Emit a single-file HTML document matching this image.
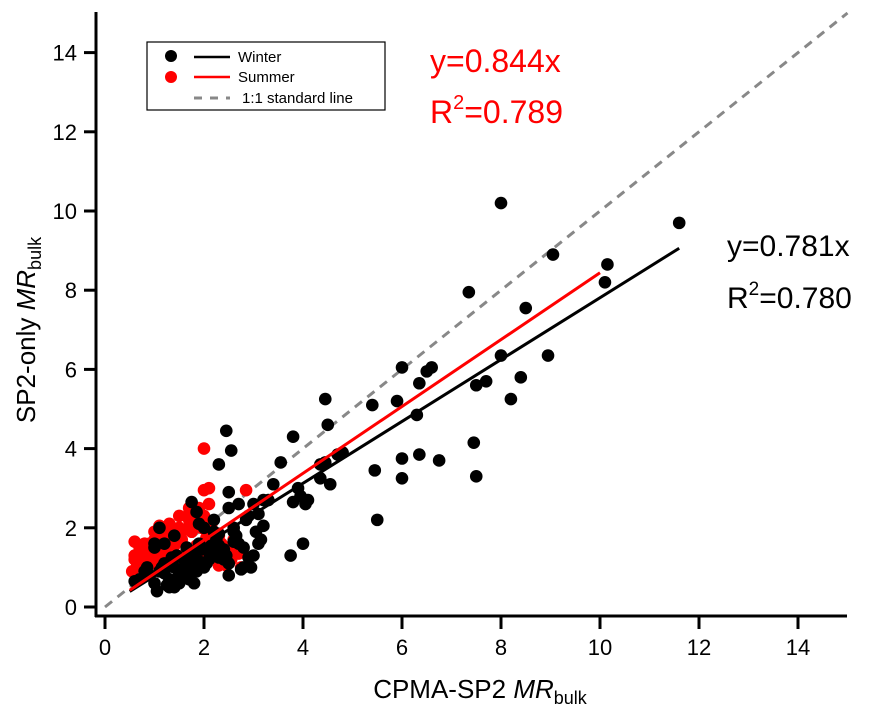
<!DOCTYPE html>
<html><head><meta charset="utf-8"><style>
body{margin:0;background:#fff;}
svg{display:block;font-family:"Liberation Sans",Arial,sans-serif;}
</style></head><body>
<svg id="chart" width="881" height="715">
<g id="marks"></g>
<g id="axes"></g>
<g>
<rect x="147" y="42" width="238" height="68" fill="#fff" stroke="#000" stroke-width="1.2"/>
<circle cx="171" cy="56" r="6" fill="#000"/>
<line x1="194" y1="57" x2="230" y2="57" stroke="#000" stroke-width="2.5"/>
<text x="238" y="62" font-size="15">Winter</text>
<circle cx="171" cy="77" r="6" fill="#f00"/>
<line x1="194" y1="77" x2="230" y2="77" stroke="#f00" stroke-width="2.5"/>
<text x="238" y="82" font-size="15">Summer</text>
<line x1="194" y1="98" x2="230" y2="98" stroke="#888" stroke-width="3" stroke-dasharray="8,8"/>
<text x="242" y="103" font-size="15">1:1 standard line</text>
</g>
<text x="430" y="72" font-size="32" fill="#f00">y=0.844x</text>
<text x="430" y="123" font-size="32" fill="#f00">R<tspan dy="-14" font-size="20">2</tspan><tspan dy="14">=0.789</tspan></text>
<text x="727" y="256" font-size="30" fill="#000">y=0.781x</text>
<text x="727" y="308" font-size="30" fill="#000">R<tspan dy="-13" font-size="19">2</tspan><tspan dy="13">=0.780</tspan></text>
<text x="480" y="698" font-size="26" text-anchor="middle">CPMA-SP2 <tspan font-style="italic">MR</tspan><tspan font-size="18" dy="6">bulk</tspan></text>
<text transform="translate(35,330) rotate(-90)" font-size="26" text-anchor="middle">SP2-only <tspan font-style="italic">MR</tspan><tspan font-size="18" dy="6">bulk</tspan></text>
</svg>
<script>
const xTicks=[0,2,4,6,8,10,12,14];
const yTicks=[0,2,4,6,8,10,12,14];
const winterX=[11.6,10.15,10.1,9.05,8.0,7.35,8.5,8.0,8.95,8.2,8.4,7.7,7.5,7.45,7.5,6.6,6.5,6.35,6.0,5.9,6.3,5.4,4.45,4.5,6.0,6.35,6.75,6.0,5.45,5.5,4.8,4.7,4.45,4.35,4.55,4.35,3.55,3.8,3.9,3.95,4.1,4.05,3.8,3.75,4.0,3.0,3.2,3.1,3.2,3.15,3.1,2.95,2.8,2.55,2.45,2.3,2.7,2.4,2.5,2.6,2.9,3.3,3.4,3.0,2.8,2.6,2.2,2.1,1.9,1.8,1.7,1.6,1.5,1.4,1.3,1.2,1.1,1.0,0.9,0.8,0.7,0.6,1.05,1.25,1.45,1.65,1.85,2.05,2.25,2.45,2.65,2.85,1.15,1.35,1.55,1.75,1.95,2.15,2.35,1.0,1.2,1.4,1.6,1.8,2.0,2.2,1.3,1.5,1.7,1.9,2.1,2.3,2.5,1.1,1.75,1.85,2.5,2.7,2.0,1.8,2.4,1.0,0.85,1.55,1.4,1.6,1.9,2.2,2.4,2.6,2.3,2.0,1.7,1.2,1.5,1.9,2.1,2.5,2.75,2.9,3.05,2.3,1.9];
const winterY=[9.7,8.65,8.2,8.9,10.2,7.95,7.55,6.35,6.35,5.25,5.8,5.7,5.6,4.15,3.3,6.05,5.95,5.65,6.05,5.2,4.85,5.1,5.25,4.6,3.75,3.85,3.7,3.25,3.45,2.2,3.9,3.85,3.65,3.6,3.1,3.25,3.65,4.3,3.0,2.8,2.7,2.6,2.65,1.3,1.6,2.6,2.7,2.35,2.05,1.7,1.6,1.0,1.0,3.95,4.45,3.6,1.6,1.2,1.1,2.0,2.3,2.7,3.1,1.3,1.5,1.9,2.2,1.4,1.6,1.1,0.9,1.2,0.8,1.0,0.7,1.1,0.9,0.6,0.8,0.9,0.7,0.65,0.4,0.55,1.3,1.5,0.9,1.1,1.7,1.3,1.8,2.2,1.0,1.25,0.75,0.95,1.45,1.55,1.35,1.5,1.6,1.8,1.2,1.4,1.0,1.9,0.5,0.6,0.7,1.0,1.2,1.25,2.5,2.0,2.65,2.4,2.9,2.6,2.0,0.6,1.45,1.6,1.0,0.9,0.5,1.0,1.15,1.35,1.45,1.65,1.85,1.05,1.25,0.85,0.85,1.05,1.2,0.8,0.95,1.25,1.9,1.55,2.1,2.55];
const summerX=[2.0,2.85,2.0,2.1,1.7,1.5,1.3,1.1,0.9,0.7,0.6,0.55,0.75,0.95,1.15,1.35,1.55,1.75,1.95,2.15,2.35,2.55,2.75,0.8,1.0,1.2,1.4,1.6,1.8,2.2,2.4,2.6,0.65,0.85,1.05,1.25,1.45,1.65,1.85,2.05,1.3,1.6,1.9,2.3,1.0,1.2,1.7,0.6,0.8,1.0,1.2,1.4,1.6,1.8,2.0,0.7,0.9,1.1,1.3,1.5,1.7,1.9,2.1,2.3,2.5,0.6,0.8,1.0,1.2,1.4,1.6,1.8,1.5,1.3,1.1,2.6,2.7,2.45];
const summerY=[4.0,2.95,2.95,3.0,2.5,2.3,2.1,1.8,1.6,1.4,1.65,0.9,1.2,1.3,1.5,1.6,1.7,1.9,2.0,2.1,1.6,1.2,1.0,1.0,1.1,1.0,1.3,1.2,1.4,1.5,1.3,1.4,1.05,1.45,1.55,1.35,1.85,1.45,1.55,1.75,1.15,1.0,1.2,1.05,1.7,2.0,2.2,1.3,1.6,1.9,1.75,1.55,1.95,2.1,2.3,1.5,1.35,1.45,1.6,1.7,2.35,2.5,2.6,1.8,1.5,1.2,1.25,1.2,1.35,1.25,1.1,1.3,2.0,1.9,2.05,1.7,1.35,1.05];
const winterSlope=0.781, summerSlope=0.844;
const xRange=[0.5,11.6], sRange=[0.5,10.0];
const sx=v=>105+v*49.5, sy=v=>607-v*39.6;
const NS='http://www.w3.org/2000/svg';
const marks=document.getElementById('marks'), axes=document.getElementById('axes');
function mk(tag,attrs,parent){const e=document.createElementNS(NS,tag);for(const k in attrs)e.setAttribute(k,attrs[k]);parent.appendChild(e);return e;}
let l=mk('line',{x1:sx(0),y1:sy(0),x2:sx(15),y2:sy(15),stroke:'#888','stroke-width':3,'stroke-dasharray':'9,7'},marks);


summerX.forEach((x,i)=>{const c=mk('circle',{cx:sx(x),cy:sy(summerY[i]),r:6.3,fill:'#f00'},marks);

});
winterX.forEach((x,i)=>{const c=mk('circle',{cx:sx(x),cy:sy(winterY[i]),r:6.3,fill:'#000'},marks);

});
l=mk('line',{x1:sx(xRange[0]),y1:sy(xRange[0]*winterSlope),x2:sx(xRange[1]),y2:sy(xRange[1]*winterSlope),stroke:'#000','stroke-width':3},marks);


l=mk('line',{x1:sx(sRange[0]),y1:sy(sRange[0]*summerSlope),x2:sx(sRange[1]),y2:sy(sRange[1]*summerSlope),stroke:'#f00','stroke-width':3},marks);


l=mk('line',{x1:96,y1:12,x2:96,y2:617,stroke:'#000','stroke-width':3},axes);


l=mk('line',{x1:95,y1:616,x2:847,y2:616,stroke:'#000','stroke-width':3},axes);


xTicks.forEach(t=>{const k=mk('line',{x1:sx(t),y1:616,x2:sx(t),y2:629,stroke:'#000','stroke-width':3},axes);


const tx=mk('text',{x:sx(t),y:655,'font-size':22,'text-anchor':'middle'},axes);tx.textContent=t;

});
yTicks.forEach(t=>{const k=mk('line',{x1:84,y1:sy(t),x2:96,y2:sy(t),stroke:'#000','stroke-width':3},axes);


const tx=mk('text',{x:77,y:sy(t)+8,'font-size':22,'text-anchor':'end'},axes);tx.textContent=t;

});
</script>
</body></html>
